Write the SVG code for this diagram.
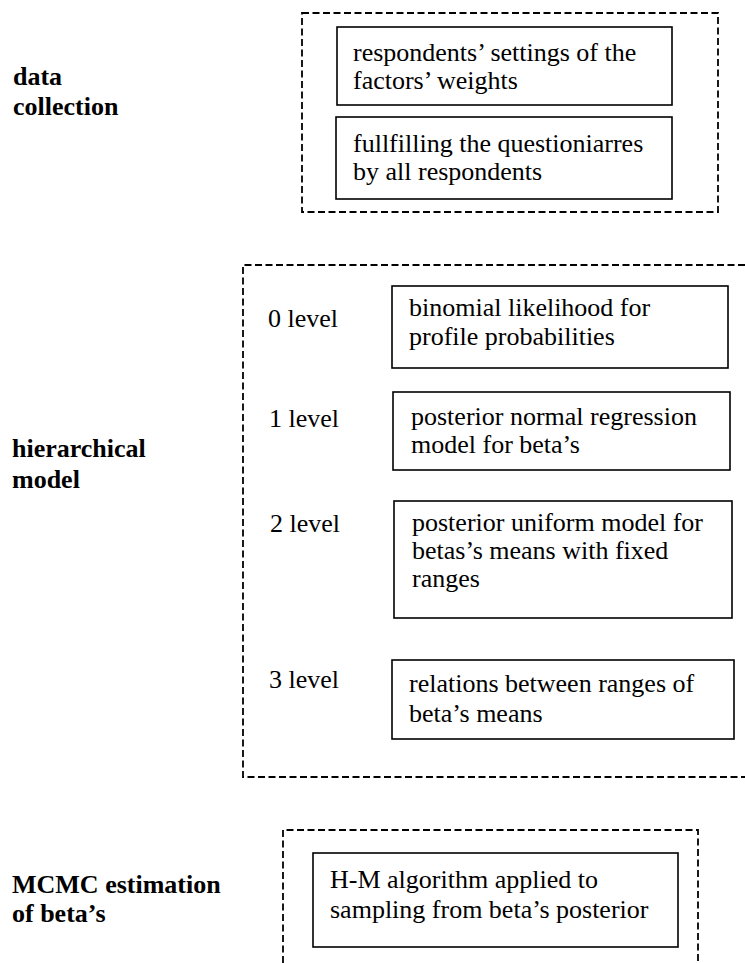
<svg xmlns="http://www.w3.org/2000/svg" width="745" height="963" viewBox="0 0 745 963" font-family="'Liberation Serif', 'Times New Roman', Tinos, 'DejaVu Serif', serif">
<style>
text{font-family:'Liberation Serif','Times New Roman',Tinos,'DejaVu Serif',serif;font-size:26px;fill:#000}
.lbl{font-weight:bold}
.box{fill:#fff;stroke:#000;stroke-width:1.6}
.dash{fill:none;stroke:#000;stroke-width:1.8;stroke-dasharray:7 3.5}
</style>
<rect width="745" height="963" fill="#fff"/>
<g id="groups">
<rect class="dash" x="302" y="13" width="416" height="199"/>
<path class="dash" d="M745 265 H243 V777 H745"/>
<path class="dash" d="M283 963 V830 H698 V963"/>
</g>
<g id="label-data"><text class="lbl" x="13" y="85">data</text><text class="lbl" x="13" y="115">collection</text></g>
<g id="label-hier"><text class="lbl" x="12" y="457">hierarchical</text><text class="lbl" x="12" y="488">model</text></g>
<g id="label-mcmc"><text class="lbl" x="12" y="893">MCMC estimation</text><text class="lbl" x="12" y="922">of beta’s</text></g>
<g id="box-settings"><rect class="box" x="337" y="27" width="335" height="78"/><text x="353" y="61">respondents’ settings of the</text><text x="353" y="89">factors’ weights</text></g>
<g id="box-questionnaires"><rect class="box" x="336" y="117" width="336" height="82"/><text x="353" y="152">fullfilling the questioniarres</text><text x="353" y="180">by all respondents</text></g>
<g id="level0"><text x="268" y="327">0 level</text><rect class="box" x="392" y="286" width="336" height="82"/><text x="409" y="316">binomial likelihood for</text><text x="409" y="345">profile probabilities</text></g>
<g id="level1"><text x="269" y="427">1 level</text><rect class="box" x="393" y="392" width="337" height="78"/><text x="411" y="425">posterior normal regression</text><text x="411" y="453">model for beta’s</text></g>
<g id="level2"><text x="270" y="532">2 level</text><rect class="box" x="394" y="501" width="338" height="117"/><text x="412" y="531">posterior uniform model for</text><text x="412" y="559">betas’s means with fixed</text><text x="412" y="587">ranges</text></g>
<g id="level3"><text x="269" y="688">3 level</text><rect class="box" x="392" y="660" width="342" height="79"/><text x="409" y="692">relations between ranges of</text><text x="409" y="722">beta’s means</text></g>
<g id="box-hm"><rect class="box" x="313" y="853" width="365" height="94"/><text x="330" y="888">H-M algorithm applied to</text><text x="330" y="918">sampling from beta’s posterior</text></g>
<g id="connectors"></g>
</svg>
